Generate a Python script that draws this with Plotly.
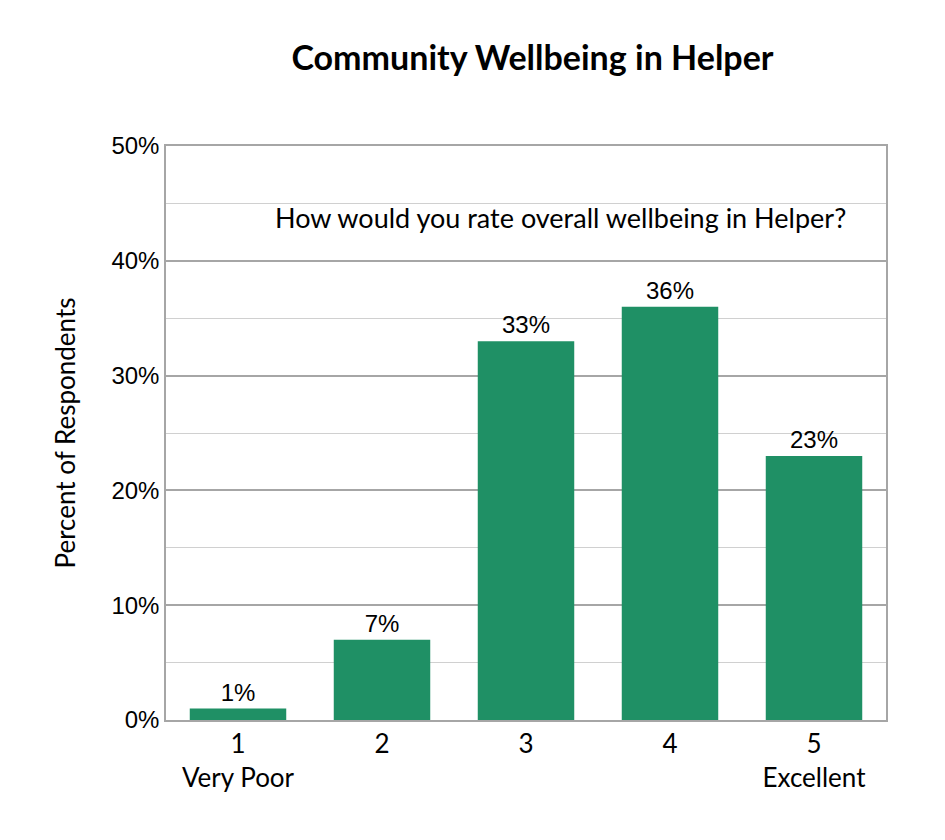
import plotly.graph_objects as go

categories = ["1<br>Very Poor", "2", "3", "4", "5<br>Excellent"]
values = [1, 7, 33, 36, 23]
labels = ["1%", "7%", "33%", "36%", "23%"]
yticks = [0, 10, 20, 30, 40, 50]
yticklabels = ["0%", "10%", "20%", "30%", "40%", "50%"]

fig = go.Figure(go.Bar(
    x=categories, y=values, text=labels, textposition="outside",
    textfont=dict(family="Liberation Sans", size=24, color="black"),
    marker=dict(color="#1f9065", line=dict(width=0)), cliponaxis=False,
))
fig.update_layout(
    width=945, height=840, paper_bgcolor="white", plot_bgcolor="white",
    margin=dict(l=158, r=67, t=138, b=128),
    bargap=0.33, showlegend=False,
    title=dict(text="<b>Community Wellbeing in Helper</b>", x=0.555, xanchor="center",
               y=0.94, yanchor="middle", font=dict(family="Lato", size=34, color="black")),
    annotations=[dict(text="How would you rate overall wellbeing in Helper?", xref="paper", yref="paper",
                      x=0.548, y=0.875, showarrow=False, xanchor="center", yanchor="middle",
                      font=dict(family="Lato", size=27, color="black"))],
)
fig.update_yaxes(range=[0, 50], tickvals=yticks, ticktext=yticklabels,
                 tickfont=dict(family="Liberation Sans", size=24, color="black"),
                 title=dict(text="Percent of Respondents", font=dict(family="Lato", size=26, color="black"), standoff=28),
                 showgrid=True, gridcolor="#a6a6a6", gridwidth=1.5,
                 minor=dict(dtick=5, showgrid=True, gridcolor="#d0d0d0", gridwidth=1),
                 showline=True, linecolor="#a6a6a6", linewidth=1.5, mirror=True, zeroline=False, ticks="")
fig.update_xaxes(tickfont=dict(family="Lato", size=26, color="black"),
                 showline=True, linecolor="#a6a6a6", linewidth=1.5, mirror=True, ticks="")
fig.write_html("out.html")
